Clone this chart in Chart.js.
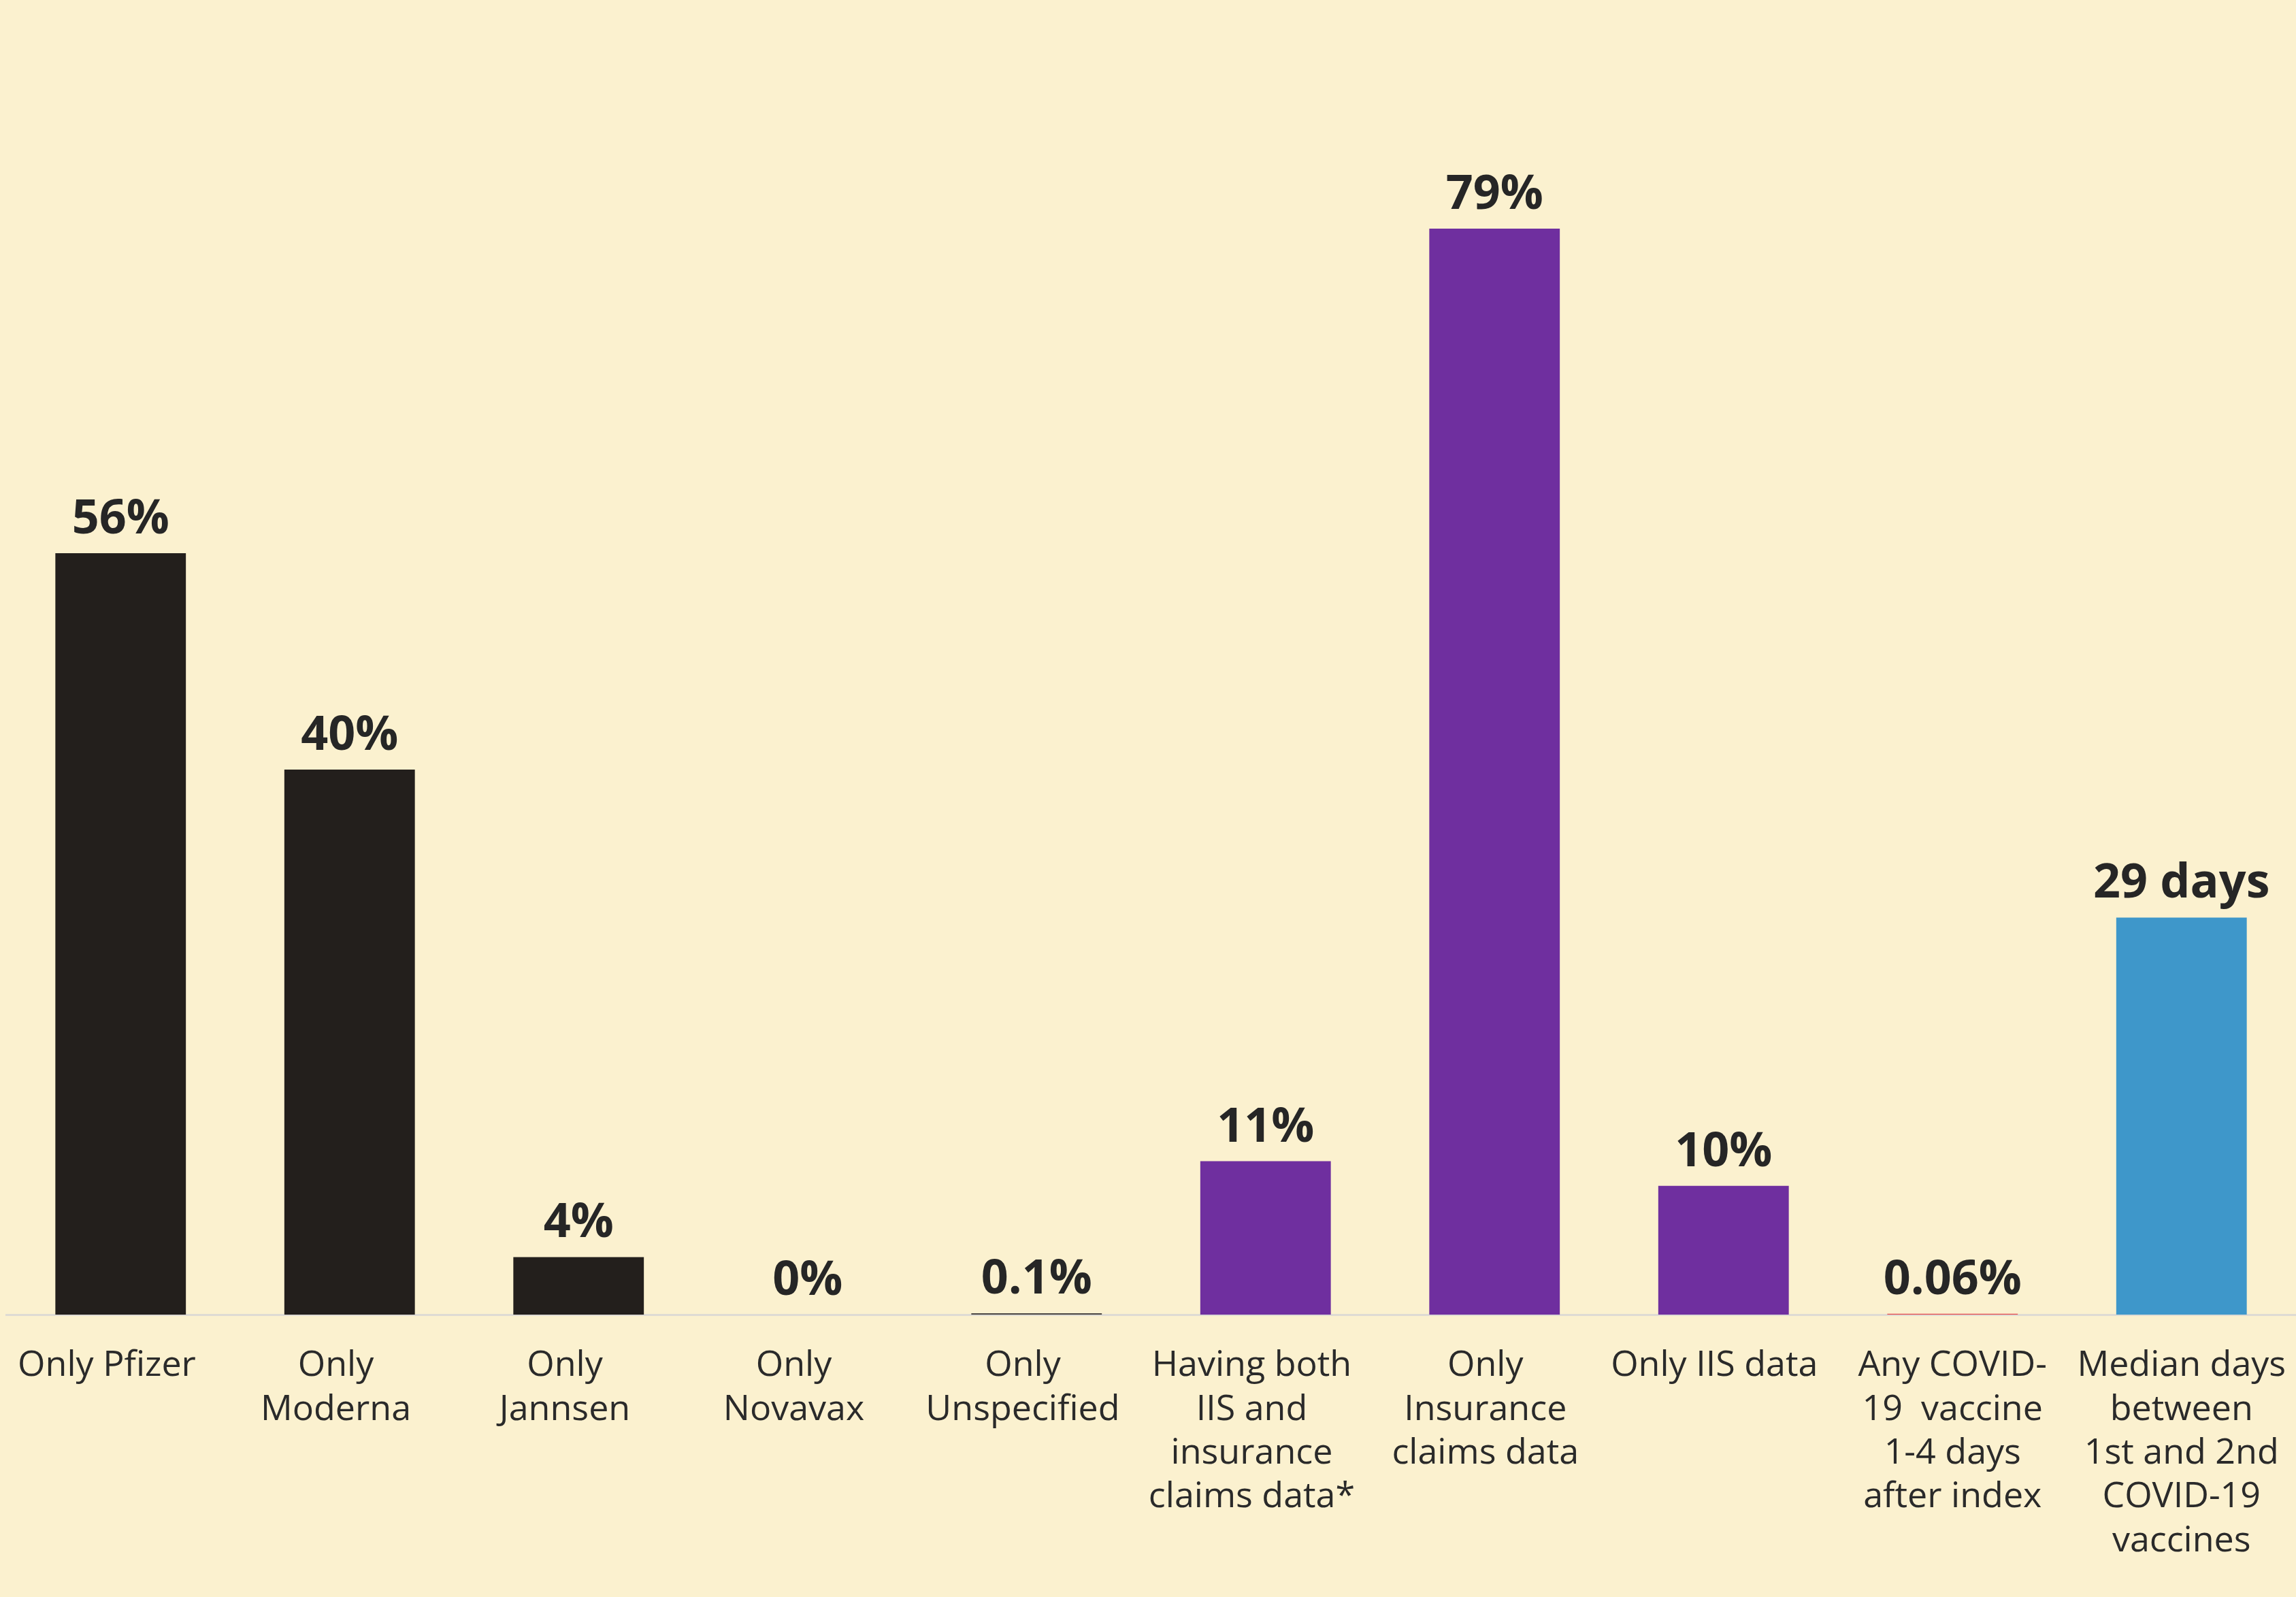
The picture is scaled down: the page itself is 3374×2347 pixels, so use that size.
<!DOCTYPE html>
<html>
<head>
<meta charset="utf-8">
<script src="https://cdn.jsdelivr.net/npm/chart.js@4.4.1/dist/chart.umd.min.js"></script>
<style>
  html, body { margin: 0; padding: 0; background: #FBF1CF; }
  #wrap { width: 3374px; height: 2347px; }
</style>
</head>
<body>
<div id="wrap"><canvas id="chart" width="3374" height="2347"></canvas></div>
<script>
// Categorías (con saltos de línea como en el original)
const categories = [
  ['Only Pfizer'],
  ['Only', 'Moderna'],
  ['Only', 'Jannsen'],
  ['Only', 'Novavax'],
  ['Only', 'Unspecified'],
  ['Having both', 'IIS and', 'insurance', 'claims data*'],
  ['Only', 'Insurance', 'claims data'],
  ['Only IIS data'],
  ['Any COVID-', '19  vaccine', '1-4 days', 'after index'],
  ['Median days', 'between', '1st and 2nd', 'COVID-19', 'vaccines']
];

const values = [55.6, 39.8, 4.2, 0, 0.1, 11.2, 79.3, 9.4, 0.06, 29];

// Etiquetas mostradas encima de cada barra
const valueLabels = ['56%', '40%', '4%', '0%', '0.1%', '11%', '79%', '10%', '0.06%', '29 days'];

const barColors = [
  '#231F1C', '#231F1C', '#231F1C', '#231F1C', '#4A4643',
  '#6F2F9F', '#6F2F9F', '#6F2F9F', '#E2474B', '#3E97CA'
];

// Plugin para dibujar los valores encima de las barras
const valueLabelPlugin = {
  id: 'valueLabels',
  afterDatasetsDraw(chart) {
    const ctx = chart.ctx;
    const meta = chart.getDatasetMeta(0);
    ctx.save();
    ctx.font = 'bold 70px "Open Sans"';
    ctx.fillStyle = '#262626';
    ctx.textAlign = 'center';
    ctx.textBaseline = 'alphabetic';
    meta.data.forEach((bar, i) => {
      ctx.fillText(valueLabels[i], bar.x, bar.y - 29);
    });
    ctx.restore();
  }
};

// En el original las etiquetas de las primeras columnas quedan algo a la izquierda
function padLabel(lines, i) {
  const pad = i < 6 ? '   ' : (i < 8 ? '  ' : '');
  return lines.map(l => l + pad);
}

const ctx = document.getElementById('chart').getContext('2d');
new Chart(ctx, {
  type: 'bar',
  data: {
    labels: categories,
    datasets: [{
      data: values,
      backgroundColor: barColors,
      borderWidth: 0,
      barPercentage: 1,
      categoryPercentage: 0.57
    }]
  },
  options: {
    responsive: false,
    animation: false,
    layout: { padding: { left: 9, right: 0, top: 0, bottom: 0 } },
    plugins: {
      legend: { display: false },
      tooltip: { enabled: false }
    },
    scales: {
      x: {
        grid: { display: false },
        border: { display: true, color: '#DEDBD3', width: 3 },
        ticks: {
          autoSkip: false,
          maxRotation: 0,
          minRotation: 0,
          padding: 35,
          color: '#2A2A2A',
          font: { family: '"Open Sans"', size: 52, lineHeight: 1.24 },
          callback: (value, i) => padLabel(categories[i], i)
        },
        afterFit(scale) {
          scale.height = 415;
          scale.paddingLeft = 0;
          scale.paddingRight = 0;
        }
      },
      y: {
        display: false,
        min: 0,
        max: 96
      }
    }
  },
  plugins: [valueLabelPlugin]
});
</script>
</body>
</html>
